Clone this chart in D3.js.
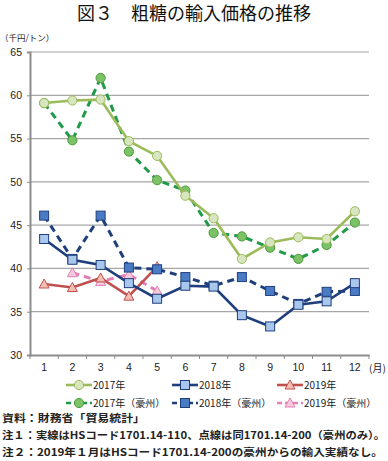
<!DOCTYPE html>
<html>
<head>
<meta charset="utf-8">
<script src="https://cdn.jsdelivr.net/npm/d3@7"></script>
<style>
  body { margin: 0; background: #fff; }
  svg { display: block; font-family: "Liberation Sans", "Noto Sans CJK JP", sans-serif; }
  .jp { font-family: "Noto Sans CJK JP", sans-serif; }
</style>
</head>
<body>
<div id="chart"></div>
<script>
// data
const months = [1, 2, 3, 4, 5, 6, 7, 8, 9, 10, 11, 12];
const yTicks = [30, 35, 40, 45, 50, 55, 60, 65];
const v2017 = [59.1, 59.4, 59.5, 54.7, 53.0, 48.4, 45.8, 41.1, 43.0, 43.6, 43.4, 46.6];
const v2017au = [59.1, 54.8, 62.0, 53.5, 50.2, 49.0, 44.1, 43.7, 42.4, 41.1, 42.7, 45.3];
const v2018 = [43.4, 41.0, 40.4, 38.3, 36.5, 38.0, 37.9, 34.6, 33.3, 35.8, 36.2, 38.3];
const v2018au = [46.1, 41.1, 46.1, 40.1, 39.9, 39.0, 38.0, 39.0, 37.4, 35.9, 37.3, 37.4];
const v2019 = [38.2, 37.8, 38.9, 36.8, 40.2, null, null, null, null, null, null, null];
const v2019au = [null, 39.5, 38.5, 39.3, 37.4, null, null, null, null, null, null, null];

const series = [
  { name: "2017年", values: v2017, line: "#9bbb59", fill: "#d8e6bf", stroke: "#9bbb59", shape: "circle", dash: null },
  { name: "2018年", values: v2018, line: "#1f3f7c", fill: "#a9c6ec", stroke: "#1f3f7c", shape: "square", dash: null },
  { name: "2019年", values: v2019, line: "#c0504d", fill: "#f4bdb3", stroke: "#c0504d", shape: "triangle", dash: null },
  { name: "2017年（豪州）", values: v2017au, line: "#1f9a48", fill: "#7cc267", stroke: "#4d9a3c", shape: "circle", dash: "7,5" },
  { name: "2018年（豪州）", values: v2018au, line: "#1f3f7c", fill: "#4a7cc6", stroke: "#1f3f7c", shape: "square", dash: "7,5" },
  { name: "2019年（豪州）", values: v2019au, line: "#e27fb4", fill: "#f8cbdc", stroke: "#e27fb4", shape: "triangle", dash: "7,5" }
];

const W = 388, H = 461;
const plot = { left: 30, right: 369, top: 52, bottom: 355 };

const svg = d3.select("#chart").append("svg").attr("width", W).attr("height", H);

// title
svg.append("text").attr("class", "jp")
  .attr("x", W / 2).attr("y", 20).attr("text-anchor", "middle")
  .attr("font-size", 18).attr("fill", "#111")
  .text("図３　粗糖の輸入価格の推移");

svg.append("text").attr("class", "jp")
  .attr("x", 0).attr("y", 41).attr("font-size", 8.5).attr("fill", "#222")
  .text("（千円/トン）");

const x = d3.scaleBand().domain(months).range([plot.left, plot.right]);
const y = d3.scaleLinear().domain([30, 65]).range([plot.bottom, plot.top]);

// gridlines
svg.append("g").selectAll("line").data(yTicks.filter(d => d > 30)).enter().append("line")
  .attr("x1", plot.left).attr("x2", plot.right)
  .attr("y1", d => y(d)).attr("y2", d => y(d))
  .attr("stroke", "#a6a6a6").attr("stroke-width", 1.2);

// y axis
const yAxis = svg.append("g").attr("transform", `translate(${plot.left},0)`)
  .call(d3.axisLeft(y).tickValues(yTicks).tickSize(3).tickPadding(5));
yAxis.select(".domain").attr("stroke", "#8c8c8c").attr("stroke-width", 2);
yAxis.selectAll(".tick line").attr("stroke", "#8c8c8c");
yAxis.selectAll(".tick text").attr("font-size", 10.5).attr("fill", "#222");

// x axis, ticks on band edges
const xAxis = svg.append("g").attr("transform", `translate(0,${plot.bottom})`)
  .call(d3.axisBottom(x).tickSize(0).tickPadding(9));
xAxis.select(".domain").attr("stroke", "#8c8c8c").attr("stroke-width", 2);
xAxis.selectAll(".tick text").attr("font-size", 10.5).attr("fill", "#222");
xAxis.selectAll(".edge").data(months.concat([13])).enter().append("line")
  .attr("x1", d => d <= 12 ? x(d) : plot.right).attr("x2", d => d <= 12 ? x(d) : plot.right)
  .attr("y1", 0).attr("y2", 4).attr("stroke", "#8c8c8c");

svg.append("text").attr("class", "jp")
  .attr("x", 369).attr("y", 372).attr("font-size", 10).attr("fill", "#222")
  .text("(月)");

const cx = m => x(m) + x.bandwidth() / 2;

function marker(g, shape, fill, stroke) {
  if (shape === "circle") {
    g.append("circle").attr("r", 4.6).attr("fill", fill).attr("stroke", stroke).attr("stroke-width", 1);
  } else if (shape === "square") {
    g.append("rect").attr("x", -4.5).attr("y", -4.5).attr("width", 9).attr("height", 9)
      .attr("fill", fill).attr("stroke", stroke).attr("stroke-width", 1);
  } else {
    g.append("path").attr("d", "M0,-5L5,4L-5,4Z")
      .attr("fill", fill).attr("stroke", stroke).attr("stroke-width", 1);
  }
}

const line = d3.line()
  .defined(d => d.v !== null)
  .x(d => cx(d.m))
  .y(d => y(d.v));

// draw order: lower layers first
const order = [5, 2, 4, 1, 3, 0];
order.forEach(i => {
  const s = series[i];
  const pts = months.map((m, j) => ({ m: m, v: s.values[j] }));
  svg.append("path").datum(pts)
    .attr("d", line).attr("fill", "none")
    .attr("stroke", s.line).attr("stroke-width", s.dash ? 3 : 2.6)
    .attr("stroke-dasharray", s.dash);
  pts.filter(d => d.v !== null).forEach(d => {
    const g = svg.append("g").attr("transform", `translate(${cx(d.m)},${y(d.v)})`);
    marker(g, s.shape, s.fill, s.stroke);
  });
});

// legend
const legX = [66, 172, 277];
const legY = [385, 403];
series.forEach((s, i) => {
  const lx = legX[i % 3], ly = legY[Math.floor(i / 3)];
  const g = svg.append("g").attr("transform", `translate(${lx},${ly})`);
  g.append("line").attr("x1", 0).attr("x2", 26).attr("y1", 0).attr("y2", 0)
    .attr("stroke", s.line).attr("stroke-width", 2.6)
    .attr("stroke-dasharray", s.dash ? "5,3" : null);
  const mg = g.append("g").attr("transform", "translate(13,0)");
  marker(mg, s.shape, s.fill, s.stroke);
  g.append("text").attr("class", "jp").attr("x", 27).attr("y", 4)
    .attr("font-size", 10).attr("fill", "#222").text(s.name);
});

// notes
const notes = [
  "資料：財務省「貿易統計」",
  "注１：実線はHSコード1701.14-110、点線は同1701.14-200（豪州のみ）。",
  "注２：2019年１月はHSコード1701.14-200の豪州からの輸入実績なし。"
];
const noteLen = [143, 383, 381];
notes.forEach((t, i) => {
  svg.append("text").attr("class", "jp")
    .attr("x", 2).attr("y", 422 + i * 17)
    .attr("font-size", 10.5).attr("font-weight", "bold").attr("fill", "#222")
    .attr("textLength", noteLen[i]).attr("lengthAdjust", "spacingAndGlyphs")
    .text(t);
});
</script>
</body>
</html>
